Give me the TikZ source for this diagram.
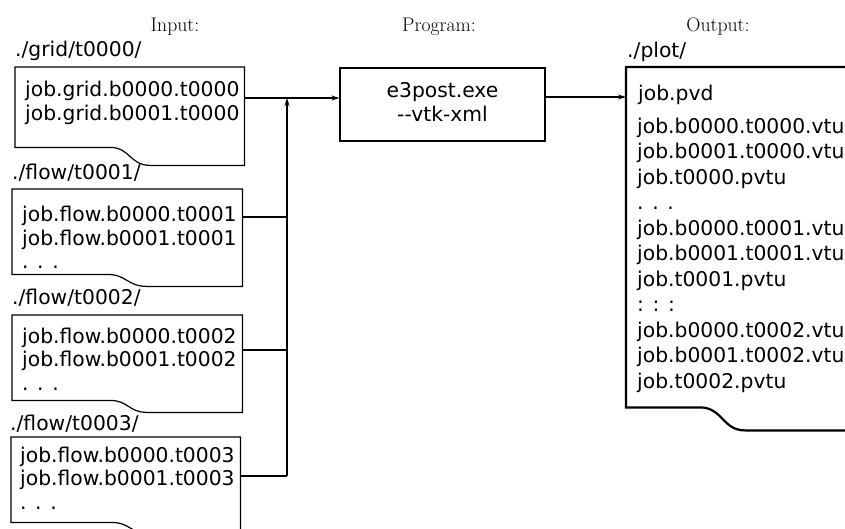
\documentclass[tikz,border=0pt]{standalone}
\usepackage{fontspec}
\newfontfamily\dv{DejaVu Sans}
\usetikzlibrary{arrows.meta,calc}

% document outline: straight top and sides, wavy bottom edge
% #1 style, #2 node, #3 rise of the bottom-left part, #4 start of the wave, #5 wave width
\newcommand\drawdoc[5]{%
  \draw[#1] (#2.south east) -- (#2.north east) -- (#2.north west)
    -- ([yshift=#3]#2.south west) -- ([yshift=#3,xshift=#4]#2.south west)
    .. controls ([yshift=#3,xshift=#4+#5/2]#2.south west)
    and ([xshift=#4+#5/2]#2.south west) .. ([xshift=#4+#5]#2.south west)
    -- cycle;}

\begin{document}
\begin{tikzpicture}[x=1pt,y=-1pt,
  thinline/.style={line width=1.2pt},
  thickline/.style={line width=2.2pt},
  conn/.style={line width=1.2pt},
  arr/.style={conn,-{Stealth[length=8pt,width=5pt]}},
  area/.style 2 args={inner sep=0pt,anchor=north west,minimum width=#1,minimum height=#2},
  % multi-line listings are placed by the baseline of their last line
  listing/.style={anchor=base west,inner sep=0pt,align=left,
    font=\dv\fontsize{20.3}{23.6}\selectfont},
  outlisting/.style={anchor=base west,inner sep=0pt,align=left,
    font=\dv\fontsize{20.3}{25.5}\selectfont},
  dirlabel/.style={anchor=base west,inner sep=0pt,font=\dv\fontsize{20.3}{24}\selectfont},
  head/.style={anchor=base,inner sep=0pt,font=\fontsize{19.7}{23}\selectfont},
  progbox/.style={draw,thinline,inner sep=0pt,minimum width=205pt,minimum height=73pt},
  progtext/.style={inner sep=0pt,align=center,font=\dv\fontsize{20.3}{24}\selectfont}
]
\clip (0,0) rectangle (845,528);

% column headings
\node[head] (hin)   at (175,31) {Input:};
\node[head] (hprog) at (439,31) {Program:};
\node[head] (hout)  at (718,31) {Output:};

% input directories
\node[area={229pt}{98pt}] (grid)  at (15,67)  {};
\node[area={230pt}{97pt}] (flow1) at (12,189) {};
\node[area={230pt}{97pt}] (flow2) at (12,315) {};
\node[area={229pt}{97pt}] (flow3) at (11,437) {};
\drawdoc{thinline}{grid}{18pt}{95pt}{40pt}
\drawdoc{thinline}{flow1}{12pt}{95pt}{40pt}
\drawdoc{thinline}{flow2}{12pt}{98pt}{37pt}
\drawdoc{thinline}{flow3}{12pt}{100pt}{40pt}

\node[dirlabel] (lgrid)  at (15,56)  {./grid/t0000/};
\node[dirlabel] (lflow1) at (12,179) {./flow/t0001/};
\node[dirlabel] (lflow2) at (12,304) {./flow/t0002/};
\node[dirlabel] (lflow3) at (10,430) {./flow/t0003/};

\node[listing] (tgrid)  at (25,120)   {job.grid.b0000.t0000\\job.grid.b0001.t0000};
\node[listing] (tflow1) at (22,268.7) {job.flow.b0000.t0001\\job.flow.b0001.t0001\\. . .};
\node[listing] (tflow2) at (22,390.2) {job.flow.b0000.t0002\\job.flow.b0001.t0002\\. . .};
\node[listing] (tflow3) at (20,509.2) {job.flow.b0000.t0003\\job.flow.b0001.t0003\\. . .};

% converter
\node[progbox] (prog) at (442.5,104.5) {};
\node[progtext] (progtext) at ([yshift=3pt]prog.center) {e3post.exe\\-\kern0pt-vtk-xml};

% output directory
\node[area={240pt}{363pt}] (plot) at (626,67) {};
\drawdoc{thickline}{plot}{23pt}{74pt}{45pt}
\node[dirlabel] (lplot) at (627,57) {./plot/};
\node[outlisting] (tpvd) at (638,100) {job.pvd};
\node[outlisting] (tplot) at (637,388) {job.b0000.t0000.vtu\\job.b0001.t0000.vtu\\job.t0000.pvtu\\. . .\\
  job.b0000.t0001.vtu\\job.b0001.t0001.vtu\\job.t0001.pvtu\\: : :\\
  job.b0000.t0002.vtu\\job.b0001.t0002.vtu\\job.t0002.pvtu};

% connectors
\coordinate (join) at (287,98);
\coordinate (j1) at (287,217);
\coordinate (j2) at (287,350);
\coordinate (j3) at (287,476);
\draw[conn] (grid.east |- join) -- (join);
\draw[arr] (join) -- (prog.west |- join);
\draw[arr] (j3) -- (join);
\draw[conn] (flow1.east |- j1) -- (j1);
\draw[conn] (flow2.east |- j2) -- (j2);
\draw[conn] (flow3.east |- j3) -- (j3);
\draw[arr] (prog.east |- 0,97) -- (plot.west |- 0,97);
\end{tikzpicture}
\end{document}
